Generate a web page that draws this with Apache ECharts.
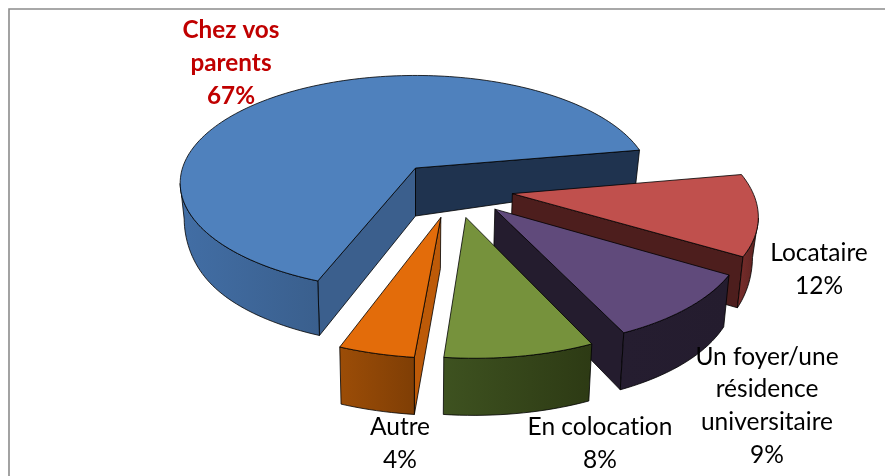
<!DOCTYPE html>
<html><head><meta charset="utf-8">
<style>html,body{margin:0;padding:0;background:#fff}#c{width:885px;height:476px}</style>
<script src="https://cdn.jsdelivr.net/npm/echarts@6/dist/echarts.min.js"></script>
</head><body><div id="c"></div>
<script>
const categories = ['Chez vos\nparents', 'Locataire', 'Un foyer/une\nrésidence\nuniversitaire', 'En colocation', 'Autre'];
const values = [67, 12, 9, 8, 4];

// Appearance of each slice (not data)
const explode = [[0,0],[0.402,0.235],[0.323,0.37],[0.203,0.44],[0.102,0.44]];
const topColor = ['#4f81bd','#c0504d','#604a7b','#76923c','#e36c0a'];
const startFace = ['#3b5f8d','#4d1e1d','#241c2e','#3c4f1e','#bd5a08'];
const endFace = ['#1f334f','#4d1e1d','#241c2e','#3c4f1e','#bd5a08'];
const wallFrom = ['#426ea5','#7a2e2c','#251d30','#3e5220','#9c4d07'];
const wallTo = ['#3a5f8d','#5a2220','#241c2e','#2d3a14','#7f3e05'];
const labelPos = [[231,63],[819,270],[767,406],[600,444],[400,444]];
const labelColor = ['#c00000','#000','#000','#000','#000'];
const labelBold = [true,false,false,false,false];

const CX=415.5, CY=168, A=233, B=105.5, K=0.14, START=108.8;
const total = values.reduce((a,b)=>a+b,0);

// keep the "ti" letters apart, as in the reference text
const origGetContext = HTMLCanvasElement.prototype.getContext;
HTMLCanvasElement.prototype.getContext = function(){
  const ctx = origGetContext.apply(this, arguments);
  if (ctx && 'letterSpacing' in ctx) ctx.letterSpacing = '0.01px';
  return ctx;
};

// small view distortion of the 3D projection
function warp(deg){
  let d=deg; while(d>290) d-=360;
  return deg + 2.7*Math.exp(-Math.pow((d-115)/30,2)) - 2*Math.exp(-Math.pow((d-33)/15,2));
}
function project(x,y){const s=1/(1-K*y);return [CX+A*x*s, CY+B*y*s];}
function depthAt(y,lc){
  const yy=Math.max(-0.5,y);
  const base = 48 + 7*Math.min(yy,1.3);
  return base - 15*lc;
}
function topPt(lx,ly,e){return project(lx+e[0],ly+e[1]);}
function botPt(lx,ly,e){
  const p=project(lx+e[0],ly+e[1]);
  const r=Math.hypot(lx,ly);
  const c=r?Math.abs(lx/r):0;
  const lc=r*Math.pow(c,12);
  return [CX+(p[0]-CX)*0.983, p[1]+depthAt(ly+e[1],lc)];
}
function renderItem(params, api){
  const i=params.dataIndex;
  let before=0; for(let k=0;k<i;k++) before+=values[k];
  const a0=START+before/total*360, a1=a0+api.value(0)/total*360;
  const e=explode[i];
  const pts=[]; const n=Math.max(4,Math.round((a1-a0)/1.5));
  for(let k=0;k<=n;k++){const t=warp(a0+(a1-a0)*k/n)*Math.PI/180;pts.push([Math.cos(t),Math.sin(t)]);}
  const children=[];
  const line={stroke:'#000',lineWidth:0.8,lineJoin:'round'};
  const face=(l1,l2,fill)=>({type:'polygon',shape:{points:[topPt(l1[0],l1[1],e),topPt(l2[0],l2[1],e),botPt(l2[0],l2[1],e),botPt(l1[0],l1[1],e)]},style:Object.assign({fill},line)});
  let run=[];
  const flush=()=>{
    if(run.length>1){
      const up=run.map(p=>topPt(p[0],p[1],e)), dn=run.map(p=>botPt(p[0],p[1],e)).reverse();
      children.push({type:'polygon',shape:{points:up.concat(dn)},style:Object.assign({fill:new echarts.graphic.LinearGradient(0,0,1,0,[{offset:0,color:wallFrom[i]},{offset:1,color:wallTo[i]}])},line)});
    }
    run=[];
  };
  const O=[0,0], S=pts[0], E=pts[pts.length-1];
  const pO=topPt(0,0,e);
  if(topPt(S[0],S[1],e)[0]<pO[0]) children.push(face(O,S,startFace[i]));
  if(pO[0]<topPt(E[0],E[1],e)[0]) children.push(face(E,O,endFace[i]));
  for(let k=0;k<pts.length-1;k++){
    const a=topPt(pts[k][0],pts[k][1],e), b=topPt(pts[k+1][0],pts[k+1][1],e);
    if(b[0]<a[0]){ if(!run.length) run.push(pts[k]); run.push(pts[k+1]); } else flush();
  }
  flush();
  children.push({type:'polygon',shape:{points:[pO].concat(pts.map(p=>topPt(p[0],p[1],e)))},style:Object.assign({fill:topColor[i]},line)});
  children.push({type:'text',x:labelPos[i][0],y:labelPos[i][1],style:{text:categories[i]+'\n'+api.value(0)+'%',x:0,y:0,align:'center',verticalAlign:'middle',
    fill:labelColor[i],font:(labelBold[i]?'bold 24.3px ':'24.5px ')+'Lato, "Open Sans", sans-serif',lineHeight:32.9}});
  return {type:'group',children};
}
const chart=echarts.init(document.getElementById('c'),null,{renderer:'canvas'});
chart.setOption({
  animation:false,
  backgroundColor:'#fff',
  graphic:[{type:'rect',z:0,shape:{x:9,y:9,width:900,height:500},style:{fill:'none',stroke:'#8c8c8c',lineWidth:1.6}}],
  series:[{type:'custom',coordinateSystem:'none',z:5,clip:false,data:values.map((v,i)=>({name:categories[i],value:[v]})),renderItem}]
});
</script></body></html>
